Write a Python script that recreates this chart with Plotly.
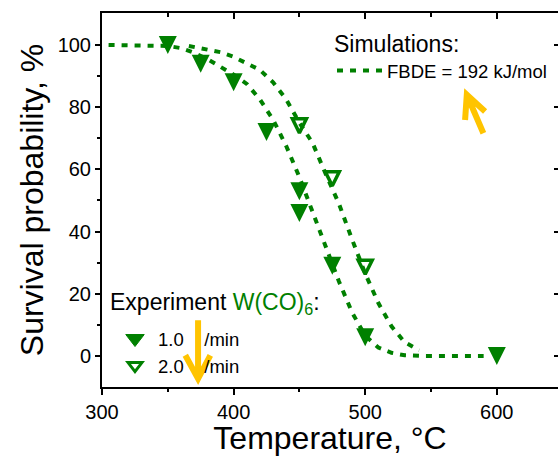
import plotly.graph_objects as go

GREEN = "#008000"
GOLD = "#FFC400"
FONT = "Liberation Sans, Arial, sans-serif"

# ---- experimental data (W(CO)6) ----
exp1_T = [350, 375, 400, 425, 450, 450, 475, 500, 600]
exp1_S = [100, 94, 88, 72, 53, 46, 29, 6, 0]
exp1_name = "1.0\u00a0\u00a0\u00a0\u00a0/min"

exp2_T = [450, 475, 500]
exp2_S = [74, 57, 28.5]
exp2_name = "2.0\u00a0\u00a0\u00a0\u00a0/min"

exp_title = "Experiment <span style='color:#008000'>W(CO)<sub>6</sub></span>:"

# ---- simulation curves (FBDE = 192 kJ/mol) ----
sim1_T = [305, 330, 350, 360, 370, 380, 390, 400, 410, 420, 430, 440, 450,
          460, 470, 480, 490, 500, 510, 520, 530, 545, 570, 590]
sim1_S = [100, 100, 99.7, 99, 97.5, 95.5, 93, 90.5, 87.5, 82.5, 76, 67.5, 57.5,
          46.5, 35.5, 24, 14, 6.5, 2.7, 1.0, 0.2, 0, 0, 0]

sim2_T = [366, 380, 390, 400, 410, 420, 430, 440, 450, 460, 470, 480, 490,
          500, 510, 520, 530, 541]
sim2_S = [99.7, 98.5, 97.7, 96.2, 94.2, 92, 88, 82.5, 75, 68.5, 58.5, 49, 37.5,
          26.5, 17, 9.5, 4.4, 1.8]
sim_name = "FBDE = 192 kJ/mol"

# ---- axes ----
x_range = [300, 646.5]
y_range = [-10, 110.3]
x_ticks = [300, 400, 500, 600]
x_minor = [350, 450, 550]
y_ticks = [0, 20, 40, 60, 80, 100]
y_minor = [10, 30, 50, 70, 90]

# ---- yellow highlight arrows (data coordinates) ----
arrow_down = dict(tail=(373, 11.5), tip=(373, -7.3), arm1=(363.3, 0.2), arm2=(382.3, 0.2))
arrow_up = dict(tail=(589.8, 71.6), tip=(577.2, 84.0), arm1=(575.9, 75.9), arm2=(591.1, 78.6))

fig = go.Figure()

sim_line = dict(color=GREEN, width=4, dash="6px,7px")
fig.add_trace(go.Scatter(x=sim1_T, y=sim1_S, mode="lines", line=sim_line,
                         name=sim_name, legend="legend", showlegend=True))
fig.add_trace(go.Scatter(x=sim2_T, y=sim2_S, mode="lines", line=sim_line,
                         name=sim_name, legend="legend", showlegend=False))
fig.add_trace(go.Scatter(x=exp1_T, y=exp1_S, mode="markers", name=exp1_name,
                         showlegend=False,
                         marker=dict(symbol="arrow-down", size=18, standoff=9,
                                     color=GREEN, line=dict(width=0))))
fig.add_trace(go.Scatter(x=exp2_T, y=exp2_S, mode="markers", name=exp2_name,
                         showlegend=False,
                         marker=dict(symbol="arrow-down-open", size=14, standoff=7,
                                     color=GREEN, line=dict(width=3.5, color=GREEN))))
# legend entries for the experimental series
fig.add_trace(go.Scatter(x=[None], y=[None], mode="markers", name=exp1_name,
                         legend="legend2", hoverinfo="skip",
                         marker=dict(symbol="triangle-down", size=16, color=GREEN,
                                     line=dict(width=1, color=GREEN))))
fig.add_trace(go.Scatter(x=[None], y=[None], mode="markers", name=exp2_name,
                         legend="legend2", hoverinfo="skip",
                         marker=dict(symbol="triangle-down-open", size=12, color=GREEN,
                                     line=dict(width=3, color=GREEN))))
# anchor trace for mirrored (top/right) axes
fig.add_trace(go.Scatter(x=[None], y=[None], xaxis="x2", yaxis="y2",
                         showlegend=False, hoverinfo="skip"))


def arrow_path(a):
    (x0, y0), (x1, y1) = a["tail"], a["tip"]
    (ax1, ay1), (ax2, ay2) = a["arm1"], a["arm2"]
    return (f"M{x0},{y0} L{x1},{y1} M{ax1},{ay1} L{x1},{y1} L{ax2},{ay2}")


shapes = [dict(type="path", xref="x", yref="y", path=arrow_path(a),
               line=dict(color=GOLD, width=6)) for a in (arrow_down, arrow_up)]

axis_common = dict(showgrid=False, zeroline=False, color="black",
                   linecolor="black", tickcolor="black")

fig.update_layout(
    width=558, height=456,
    margin=dict(l=102, r=0, t=13, b=69),
    paper_bgcolor="white", plot_bgcolor="white",
    font=dict(family=FONT, color="black", size=20),
    xaxis=dict(range=x_range, tickvals=x_ticks, ticks="outside", ticklen=6,
               tickwidth=2, showline=True, linewidth=2,
               minor=dict(tickvals=x_minor, ticks="outside", ticklen=3,
                          tickwidth=2, tickcolor="black"),
               tickfont=dict(size=20),
               title=dict(text="Temperature, \u00b0C", font=dict(size=32), standoff=5),
               **axis_common),
    yaxis=dict(range=y_range, tickvals=y_ticks, ticks="outside", ticklen=5,
               tickwidth=2, showline=True, linewidth=2,
               minor=dict(tickvals=y_minor, ticks="outside", ticklen=3,
                          tickwidth=2, tickcolor="black"),
               tickfont=dict(size=20),
               title=dict(text="Survival probability, %", font=dict(size=32), standoff=4),
               **axis_common),
    xaxis2=dict(overlaying="x", side="top", anchor="y2", range=x_range,
                tickvals=x_ticks, ticks="inside", ticklen=6, tickwidth=2,
                showticklabels=False, showline=True, linewidth=2,
                minor=dict(tickvals=x_minor, ticks="inside", ticklen=4,
                           tickwidth=2, tickcolor="black"),
                **axis_common),
    yaxis2=dict(overlaying="y", side="right", anchor="x2", range=y_range,
                tickvals=y_ticks, ticks="inside", ticklen=4, tickwidth=2,
                showticklabels=False, showline=False,
                **axis_common),
    legend=dict(x=(332 - 102) / 456, xanchor="left", y=1 - (22 - 13) / 374,
                yanchor="top", bgcolor="rgba(0,0,0,0)", borderwidth=0,
                font=dict(size=18.5), itemwidth=45,
                title=dict(text="Simulations:", font=dict(size=23))),
    legend2=dict(x=(112 - 102) / 456, xanchor="left", y=1 - (320 - 13) / 374,
                 yanchor="top", bgcolor="rgba(0,0,0,0)", borderwidth=0,
                 font=dict(size=18.5), itemwidth=36,
                 tracegroupgap=0),
    annotations=[dict(text=exp_title, xref="paper", yref="paper",
                      x=(108 - 102) / 456, xanchor="left",
                      y=1 - (303 - 13) / 374, yanchor="middle",
                      showarrow=False, font=dict(size=23))],
    shapes=shapes,
    showlegend=True,
)

fig.write_html("out.html")
